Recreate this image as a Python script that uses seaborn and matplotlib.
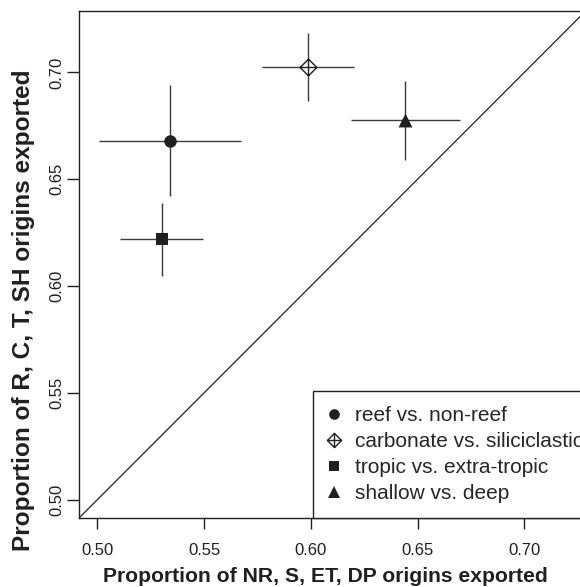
import numpy as np
import pandas as pd
import seaborn as sns
import matplotlib
matplotlib.use("Agg")
import matplotlib.pyplot as plt
from matplotlib.path import Path
from matplotlib.lines import Line2D

# ---- data ----
groups = ["reef vs. non-reef", "carbonate vs. siliciclastic",
          "tropic vs. extra-tropic", "shallow vs. deep"]
x_vals = [0.5338, 0.5988, 0.5301, 0.6443]
y_vals = [0.6681, 0.7027, 0.6221, 0.6778]
x_lo = [0.5008, 0.5773, 0.5106, 0.6186]
x_hi = [0.5671, 0.6201, 0.5496, 0.6698]
y_lo = [0.6422, 0.6867, 0.6047, 0.6591]
y_hi = [0.6942, 0.7187, 0.6391, 0.6958]
ticks = [0.50, 0.55, 0.60, 0.65, 0.70]
tick_labels = ["0.50", "0.55", "0.60", "0.65", "0.70"]
x_label = "Proportion of NR, S, ET, DP origins exported"
y_label = "Proportion of R, C, T, SH origins exported"

df = pd.DataFrame({"group": groups, "x": x_vals, "y": y_vals,
                   "xlo": x_lo, "xhi": x_hi, "ylo": y_lo, "yhi": y_hi})

sns.set_theme(style="white")
plt.rcParams["font.family"] = ["Liberation Sans", "DejaVu Sans"]

# diamond with plus (R pch 9)
diamond_plus = Path(
    [(0, 1), (1, 0), (0, -1), (-1, 0), (0, 1), (0, 1), (0, -1), (-1, 0), (1, 0)],
    [Path.MOVETO, Path.LINETO, Path.LINETO, Path.LINETO, Path.CLOSEPOLY,
     Path.MOVETO, Path.LINETO, Path.MOVETO, Path.LINETO])

mk = {"reef vs. non-reef": dict(marker="o", s=9.0 ** 2, fc="#231f20", ec="#231f20", lw=0),
      "carbonate vs. siliciclastic": dict(marker=diamond_plus, s=12.0 ** 2, fc="white", ec="#231f20", lw=1.0),
      "tropic vs. extra-tropic": dict(marker="s", s=8.6 ** 2, fc="#231f20", ec="#231f20", lw=0),
      "shallow vs. deep": dict(marker="^", s=10.0 ** 2, fc="#231f20", ec="#231f20", lw=0)}

fig = plt.figure(figsize=(5.8, 5.87), dpi=100)
ax = fig.add_axes([0.1357, 0.117, 0.8741, 0.8643])

lim = (0.4912, 0.7288)
ax.set_xlim(lim)
ax.set_ylim(lim)

# 1:1 line
ax.axline((0.5, 0.5), slope=1, color="#231f20", lw=0.9, zorder=1)

# error bars
err_col = "#3c3c3c"
ax.hlines(df["y"], df["xlo"], df["xhi"], color=err_col, lw=1.0, zorder=2)
ax.vlines(df["x"], df["ylo"], df["yhi"], color=err_col, lw=1.0, zorder=2)

# points
handles = []
for g in groups:
    sub = df[df["group"] == g]
    m = mk[g]
    sns.scatterplot(data=sub, x="x", y="y", marker=m["marker"], s=m["s"],
                    color=m["fc"], edgecolor=m["ec"], linewidth=m["lw"],
                    ax=ax, zorder=3, legend=False)
    ms = np.sqrt(m["s"]) * 0.85
    handles.append(Line2D([], [], linestyle="none", marker=m["marker"], markersize=ms,
                          markerfacecolor=m["fc"], markeredgecolor=m["ec"],
                          markeredgewidth=m["lw"], label=g))

leg = ax.legend(handles=handles, loc="lower left", bbox_to_anchor=(0.4627, 0.0),
                borderaxespad=0, fontsize=15.0, frameon=True, fancybox=False,
                framealpha=1, edgecolor="#231f20", borderpad=0.72,
                labelspacing=0.34, handlelength=0.54, handletextpad=0.74)
leg.get_frame().set_linewidth(1.0)

# axes styling
for sp in ax.spines.values():
    sp.set_color("#231f20")
    sp.set_linewidth(1.0)
ax.set_xticks(ticks)
ax.set_xticklabels(tick_labels)
ax.set_yticks(ticks)
ax.set_yticklabels(tick_labels, rotation=90, va="center")
ax.tick_params(axis="x", length=8, width=1.0, color="#231f20", pad=9.5,
               labelsize=12, labelcolor="#231f20", bottom=True)
ax.tick_params(axis="y", length=8.5, width=1.0, color="#231f20", pad=1.5,
               labelsize=12, labelcolor="#231f20", left=True)
ax.grid(False)

ax.set_xlabel(x_label, fontsize=15.2, fontweight="bold", color="#231f20")
ax.set_ylabel(y_label, fontsize=17.6, fontweight="bold", color="#231f20")
ax.xaxis.set_label_coords(0.4874, -0.096)
ax.yaxis.set_label_coords(-0.086, 0.4106)

fig.savefig("out.png", dpi=100)
